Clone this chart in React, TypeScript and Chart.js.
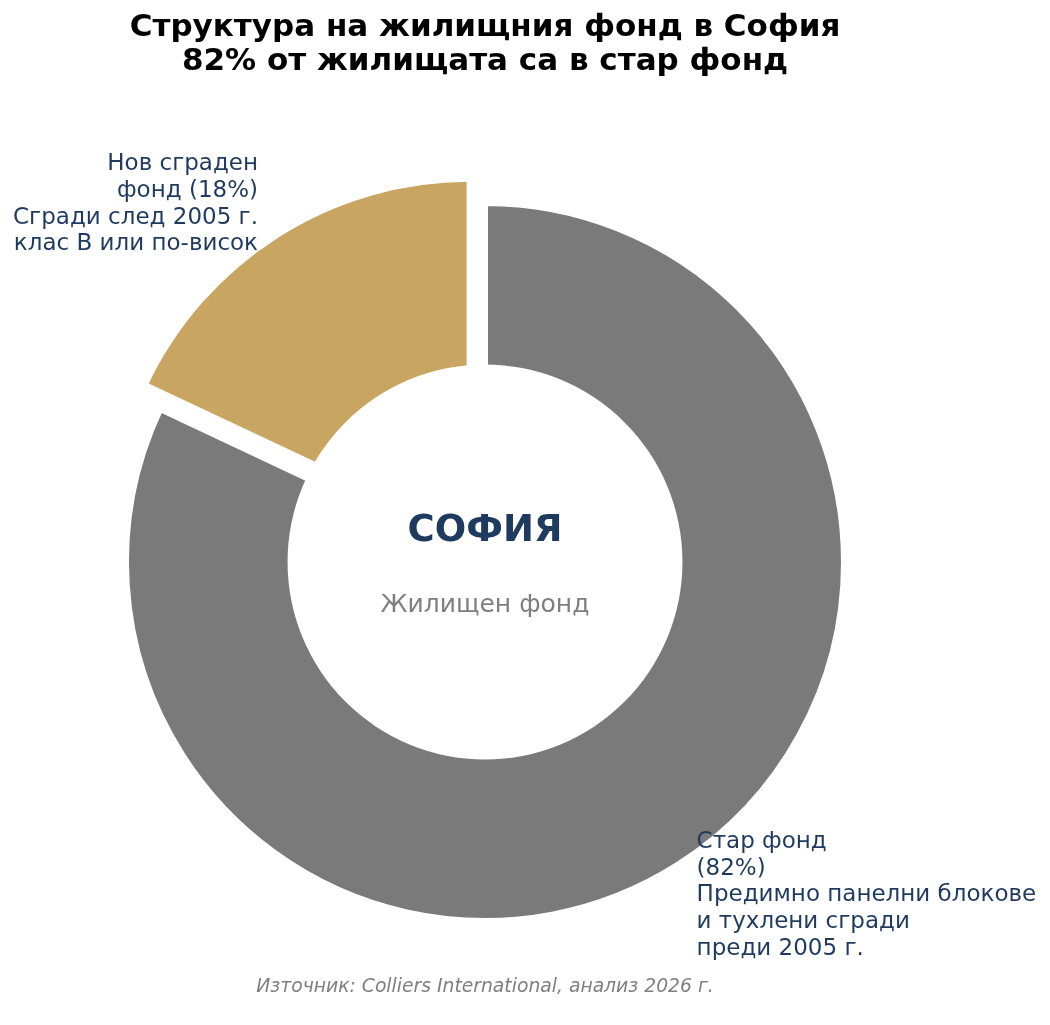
import { useEffect, useRef } from "react";
import { Chart, ArcElement, registerables } from "chart.js";

Chart.register(...registerables);

const SEGMENTS = ["Стар фонд", "Нов сграден фонд"];
const SHARES = [82, 18];
const COLORS = ["#7a7a7a", "#c8a661"];
const EXPLODE = [0, 0.08];
const LABEL_LINES = [
  ["Стар фонд", "(82%)", "Предимно панелни блокове", "и тухлени сгради", "преди 2005 г."],
  ["Нов сграден", "фонд (18%)", "Сгради след 2005 г.", "клас В или по-висок"],
];
const TITLE = ["Структура на жилищния фонд в София", "82% от жилищата са в стар фонд"];
const CENTER_TITLE = "СОФИЯ";
const CENTER_SUB = "Жилищен фонд";
const SOURCE = "Източник: Colliers International, анализ 2026 г.";

const NAVY = "#1f3a5f";
const GREY_TEXT = "#7f7f7f";
const FONT = "'DejaVu Sans', sans-serif";
const LABEL_LINE_H = 26.7;
const HOLE = 0.55; // white centre circle, relative to the outer radius

// pull slices outwards like matplotlib's explode, without changing their radii
const explodePlugin = {
  id: "explode",
  afterUpdate(chart: Chart) {
    chart.getDatasetMeta(0).data.forEach((el: any, i: number) => {
      const k = EXPLODE[i] || 0;
      if (!k || el._exploded) return;
      el._exploded = true;
      el.draw = function (ctx: CanvasRenderingContext2D) {
        const mid = (this.startAngle + this.endAngle) / 2;
        const d = k * this.outerRadius;
        ctx.save();
        ctx.translate(Math.cos(mid) * d, Math.sin(mid) * d);
        ArcElement.prototype.draw.call(this, ctx);
        ctx.restore();
      };
    });
  },
};

const textPlugin = {
  id: "pieText",
  afterDatasetsDraw(chart: Chart) {
    const arcs = chart.getDatasetMeta(0).data as any[];
    if (!arcs.length) return;
    const ctx = chart.ctx;
    const { x, y, outerRadius } = arcs[0];
    ctx.save();

    // centre hole stays on the pie centre, so the exploded slice is cut by it too
    ctx.fillStyle = "#ffffff";
    ctx.beginPath();
    ctx.arc(x, y, HOLE * outerRadius, 0, Math.PI * 2);
    ctx.fill();

    ctx.textBaseline = "middle";
    ctx.font = `23px ${FONT}`;
    ctx.fillStyle = NAVY;
    arcs.forEach((arc, i) => {
      const mid = (arc.startAngle + arc.endAngle) / 2;
      const r = arc.outerRadius;
      const cos = Math.cos(mid);
      const sin = Math.sin(mid);
      const dist = (EXPLODE[i] || 0) * r + 1.1 * r;
      const lx = arc.x + cos * dist;
      const ly = arc.y + sin * dist;
      ctx.textAlign = cos >= 0 ? "left" : "right";
      const lines = LABEL_LINES[i];
      lines.forEach((line, j) => {
        ctx.fillText(line, lx, ly + (j - (lines.length - 1) / 2) * LABEL_LINE_H);
      });
    });

    ctx.textAlign = "center";
    ctx.font = `bold 37px ${FONT}`;
    ctx.fillStyle = NAVY;
    ctx.fillText(CENTER_TITLE, x, y - 0.086 * outerRadius);
    ctx.font = `25px ${FONT}`;
    ctx.fillStyle = GREY_TEXT;
    ctx.fillText(CENTER_SUB, x, y + 0.121 * outerRadius);
    ctx.restore();
  },
};

function HousingDonut() {
  const canvasRef = useRef<HTMLCanvasElement>(null);
  const chartRef = useRef<Chart | null>(null);

  useEffect(() => {
    if (!canvasRef.current) return;
    const ctx = canvasRef.current.getContext("2d");
    if (!ctx) return;

    chartRef.current?.destroy();
    chartRef.current = new Chart(ctx, {
      type: "pie",
      data: {
        labels: SEGMENTS,
        datasets: [
          {
            data: SHARES,
            backgroundColor: COLORS,
            hoverBackgroundColor: COLORS,
            borderColor: "#ffffff",
            borderWidth: 6,
            hoverBorderWidth: 6,
            borderJoinStyle: "miter",
          } as any,
        ],
      },
      options: {
        responsive: true,
        maintainAspectRatio: false,
        animation: false,
        events: [],
        rotation: 0,
        layout: { padding: { left: 123, right: 203, top: 0, bottom: 0 } },
        plugins: {
          legend: { display: false },
          tooltip: { enabled: false },
          title: {
            display: true,
            text: TITLE,
            color: "#000000",
            font: { family: FONT, size: 31, weight: "bold", lineHeight: "34px" },
            padding: { top: 11, bottom: 121 },
          },
          subtitle: {
            display: true,
            position: "bottom",
            text: SOURCE,
            color: GREY_TEXT,
            font: { family: FONT, size: 18.75, style: "italic", lineHeight: "22px" },
            padding: { top: 52, bottom: 27 },
          },
        },
      },
      plugins: [explodePlugin, textPlugin],
    });

    return () => chartRef.current?.destroy();
  }, []);

  return (
    <div style={{ position: "absolute", left: 0, top: 0, width: 1050, height: 1025, background: "#fff" }}>
      <canvas ref={canvasRef} />
    </div>
  );
}

export default function App() {
  return <HousingDonut />;
}
